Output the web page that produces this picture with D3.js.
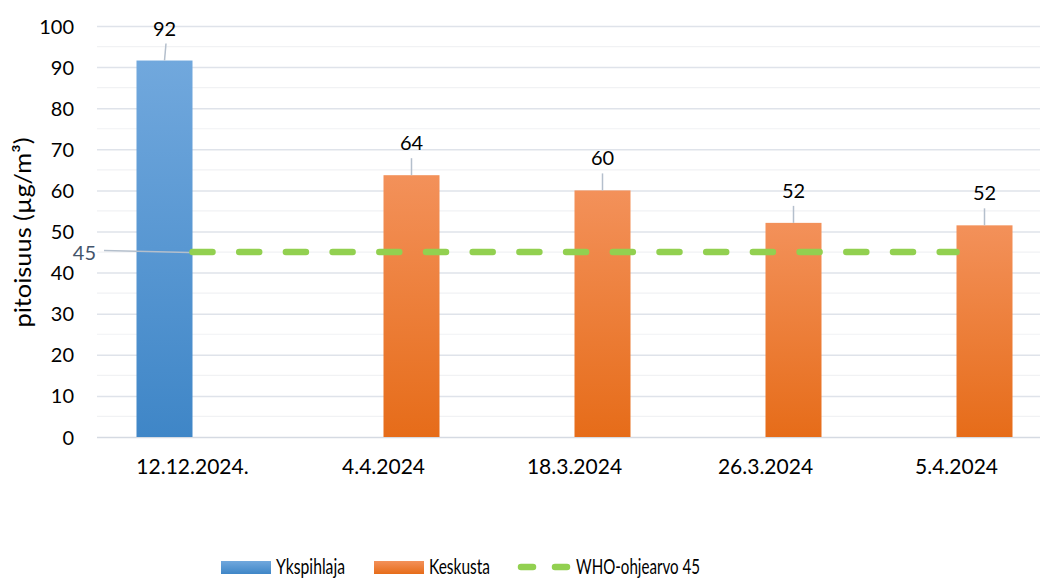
<!DOCTYPE html>
<html>
<head>
<meta charset="utf-8">
<script src="https://cdn.jsdelivr.net/npm/d3@7"></script>
<style>
  body { margin: 0; background: #fff; }
  svg text { font-family: Lato, "Open Sans", sans-serif; fill: #000; }
</style>
</head>
<body>
<div id="chart"></div>
<script>
const categories = ["12.12.2024.", "4.4.2024", "18.3.2024", "26.3.2024", "5.4.2024"];
const ykspihlaja = [91.6, null, null, null, null];
const keskusta = [null, 63.7, 60.0, 52.1, 51.5];
const whoLimit = [45, 45, 45, 45, 45];
const yTicks = [0, 10, 20, 30, 40, 50, 60, 70, 80, 90, 100];
const seriesNames = ["Ykspihlaja", "Keskusta"];
const whoName = "WHO-ohjearvo 45";

const width = 1040, height = 579;
const margin = {top: 26, right: -12, bottom: 142, left: 97};

const svg = d3.select("#chart").append("svg")
    .attr("width", width)
    .attr("height", height);

const defs = svg.append("defs");
function gradient(id, top, bottom) {
    const g = defs.append("linearGradient")
        .attr("id", id)
        .attr("x1", 0).attr("y1", 0).attr("x2", 0).attr("y2", 1);
    g.append("stop").attr("offset", "0%").attr("stop-color", top);
    g.append("stop").attr("offset", "100%").attr("stop-color", bottom);
}
gradient("gradBlue", "#71a8dd", "#3f86c7");
gradient("gradOrange", "#f3915a", "#e66c19");
const fills = {"Ykspihlaja": "url(#gradBlue)", "Keskusta": "url(#gradOrange)"};

const x = d3.scaleBand()
    .domain(categories)
    .range([margin.left, width - margin.right]);

const barW = 56;
const x1 = d3.scaleBand()
    .domain(seriesNames)
    .range([x.bandwidth() / 2 - barW, x.bandwidth() / 2 + barW]);

const y = d3.scaleLinear()
    .domain([0, 100])
    .range([height - margin.bottom, margin.top]);

// minor gridlines
svg.append("g")
    .selectAll("line")
    .data(d3.range(5, 100, 10))
    .enter().append("line")
    .attr("x1", margin.left).attr("x2", width)
    .attr("y1", d => y(d)).attr("y2", d => y(d))
    .attr("stroke", "#f1f2f4")
    .attr("stroke-width", 1.2);

// major gridlines + labels
const yAxis = svg.append("g")
    .attr("transform", `translate(${margin.left},0)`)
    .call(d3.axisLeft(y).tickValues(yTicks).tickSize(-(width - margin.left)).tickPadding(23));
yAxis.select(".domain").remove();
yAxis.selectAll(".tick line")
    .attr("stroke", d => d === 0 ? "#d5dae2" : "#dfe3ea")
    .attr("stroke-width", 1.5);
yAxis.selectAll(".tick text")
    .style("font-size", "20px")
    .attr("dy", "0.35em");

// y title
svg.append("text")
    .attr("transform", `translate(31,${y(50) + 1}) rotate(-90)`)
    .attr("text-anchor", "middle")
    .style("font-size", "23px")
    .attr("textLength", 190)
    .attr("lengthAdjust", "spacingAndGlyphs")
    .text("pitoisuus (µg/m³)");

// x labels
svg.append("g")
    .selectAll("text")
    .data(categories)
    .enter().append("text")
    .attr("x", d => x(d) + x.bandwidth() / 2)
    .attr("y", 474)
    .attr("text-anchor", "middle")
    .style("font-size", "21px")
    .text(d => d);

// bars
const barData = [];
categories.forEach((c, i) => {
    if (ykspihlaja[i] != null) barData.push({cat: c, s: "Ykspihlaja", v: ykspihlaja[i]});
    if (keskusta[i] != null) barData.push({cat: c, s: "Keskusta", v: keskusta[i]});
});

svg.append("g")
    .selectAll("rect")
    .data(barData)
    .enter().append("rect")
    .attr("x", d => x(d.cat) + x1(d.s))
    .attr("width", x1.bandwidth())
    .attr("y", d => y(d.v))
    .attr("height", d => y(0) - y(d.v))
    .attr("fill", d => fills[d.s]);

// bar data labels with leader lines
const lbl = svg.append("g");
lbl.selectAll("line")
    .data(barData)
    .enter().append("line")
    .attr("x1", d => x(d.cat) + x1(d.s) + x1.bandwidth() / 2)
    .attr("x2", (d, i) => x(d.cat) + x1(d.s) + x1.bandwidth() / 2 + (i === 0 ? 1.5 : 0))
    .attr("y1", d => y(d.v))
    .attr("y2", d => y(d.v) - 17)
    .attr("stroke", "#b4bfcc")
    .attr("stroke-width", 1.5);
lbl.selectAll("text")
    .data(barData)
    .enter().append("text")
    .attr("x", d => x(d.cat) + x1(d.s) + x1.bandwidth() / 2)
    .attr("y", d => y(d.v) - 25)
    .attr("text-anchor", "middle")
    .style("font-size", "20px")
    .text(d => d3.format(".0f")(d.v));

// WHO line
const line = d3.line()
    .x((d, i) => x(categories[i]) + x.bandwidth() / 2)
    .y(d => y(d));

// leader + label for the first WHO point
const p0x = x(categories[0]) + x.bandwidth() / 2;
svg.append("line")
    .attr("x1", 104).attr("y1", y(whoLimit[0]) - 1.5)
    .attr("x2", p0x - 3).attr("y2", y(whoLimit[0]) + 0.5)
    .attr("stroke", "#b4bfcc")
    .attr("stroke-width", 1.5);
svg.append("text")
    .attr("x", 96)
    .attr("y", y(whoLimit[0]) + 1)
    .attr("dy", "0.35em")
    .attr("text-anchor", "end")
    .style("font-size", "20px")
    .style("fill", "#44546a")
    .text(d3.format(".0f")(whoLimit[0]));

svg.append("path")
    .datum(whoLimit)
    .attr("d", line)
    .attr("fill", "none")
    .attr("stroke", "#92d050")
    .attr("stroke-width", 6.5)
    .attr("stroke-linecap", "round")
    .attr("stroke-dasharray", "20 26.7");

// legend
const legend = svg.append("g").attr("transform", "translate(0,567)");
function legendText(xPos, str, len) {
    legend.append("text")
        .attr("x", xPos)
        .attr("dy", "0.35em")
        .style("font-size", "21px")
        .attr("textLength", len)
        .attr("lengthAdjust", "spacingAndGlyphs")
        .text(str);
}
legend.append("rect").attr("x", 221).attr("y", -6).attr("width", 50).attr("height", 13).attr("fill", fills["Ykspihlaja"]);
legendText(276, seriesNames[0], 69);
legend.append("rect").attr("x", 374).attr("y", -6).attr("width", 50).attr("height", 13).attr("fill", fills["Keskusta"]);
legendText(429, seriesNames[1], 61);
legend.append("line")
    .attr("x1", 521).attr("x2", 568)
    .attr("stroke", "#92d050")
    .attr("stroke-width", 6.5)
    .attr("stroke-linecap", "round")
    .attr("stroke-dasharray", "12 22");
legendText(576, whoName, 124);
</script>
</body>
</html>
